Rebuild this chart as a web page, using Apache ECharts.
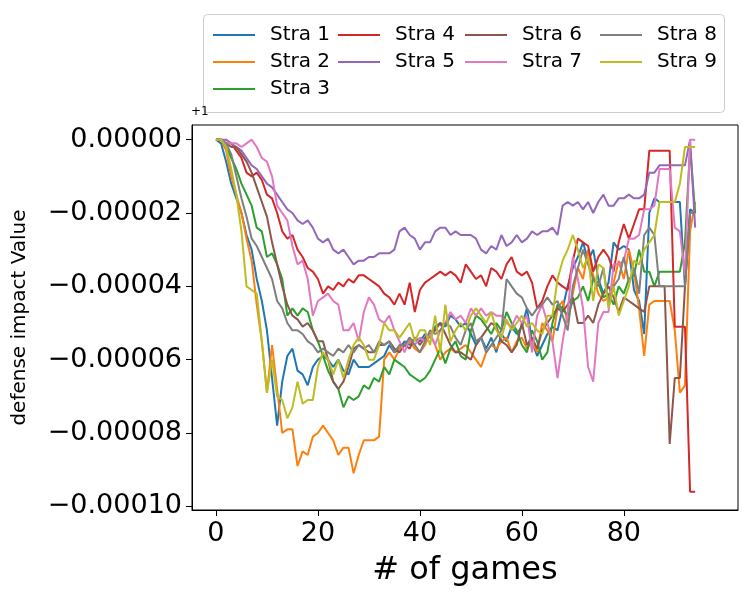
<!DOCTYPE html>
<html>
<head>
<meta charset="utf-8">
<script src="https://cdn.jsdelivr.net/npm/echarts@6/dist/echarts.min.js"></script>
<style>body{margin:0}#main{width:750px;height:600px}</style>
</head>
<body>
<div id="main"></div>
<script>
// values are in units of 1e-6, relative to the +1 offset
var names = ['Stra 1','Stra 2','Stra 3','Stra 4','Stra 5','Stra 6','Stra 7','Stra 8','Stra 9'];
var colors = ['#1f77b4','#ff7f0e','#2ca02c','#d62728','#9467bd','#8c564b','#e377c2','#7f7f7f','#bcbd22'];
var xTicks = [0,20,40,60,80];
var yTicks = [0,-20,-40,-60,-80,-100];

var stra1 = [0,-1,-6,-12,-16,-20,-26,-30,-38,-44,-52,-65,-78,-66,-59,-57,-63,-64,-67,-62,-60,-59,-60,-62,-60,-63,-64,-60,-62,-62,-62,-61,-60,-59,-56,-58,-57,-55,-56,-54,-55,-53,-54,-51,-50,-51,-48,-49,-51,-50,-53,-56,-54,-57,-54,-58,-53,-55,-51,-53,-51,-46,-55,-59,-56,-53,-51,-52,-46,-40,-35,-32,-28,-33,-30,-38,-42,-39,-28,-30,-29,-30,-41,-44,-53,-20,-16,-17,-17,-17,-17,-17,-40,-19,-20];
var stra2 = [0,0,-3,-10,-15,-20,-27,-33,-45,-55,-69,-56,-68,-80,-79,-79,-89,-85,-86,-81,-80,-78,-80,-82,-86,-84,-84,-91,-86,-82,-82,-82,-81,-60,-58,-60,-57,-56,-55,-57,-58,-56,-53,-56,-60,-58,-57,-58,-57,-56,-58,-60,-62,-58,-56,-57,-55,-54,-58,-55,-54,-57,-55,-58,-50,-52,-55,-46,-44,-50,-42,-35,-38,-30,-37,-42,-44,-43,-39,-33,-38,-30,-36,-46,-59,-45,-44,-44,-44,-44,-52,-69,-67,-25,-17];
var stra3 = [0,0,-2,-5,-8,-12,-15,-18,-24,-25,-32,-31,-34,-38,-48,-46,-48,-46,-47,-52,-55,-59,-63,-66,-68,-73,-70,-71,-70,-67,-68,-65,-66,-62,-64,-60,-61,-62,-64,-65,-66,-65,-63,-60,-57,-61,-57,-55,-59,-60,-52,-48,-49,-51,-53,-50,-52,-47,-50,-52,-56,-58,-52,-55,-60,-58,-50,-45,-46,-48,-44,-43,-40,-44,-38,-39,-43,-42,-45,-40,-42,-38,-37,-30,-36,-36,-40,-36,-36,-36,-36,-36,-28,-2,-20];
var stra4 = [0,0,-1,-1,-3,-5,-9,-10,-9,-11,-15,-16,-20,-25,-27,-26,-30,-32,-35,-36,-38,-42,-40,-41,-39,-40,-38,-39,-37,-37,-38,-39,-40,-42,-43,-45,-42,-45,-39,-47,-41,-39,-38,-37,-36,-37,-36,-37,-39,-34,-36,-38,-37,-40,-35,-36,-38,-34,-32,-36,-37,-36,-39,-46,-44,-40,-37,-39,-40,-41,-33,-27,-28,-29,-36,-32,-30,-32,-36,-28,-23,-27,-23,-19,-19,-3,-3,-3,-3,-3,-51,-51,-51,-96,-96];
var stra5 = [0,0,0,-1,-2,-3,-5,-7,-8,-10,-12,-13,-15,-17,-19,-20,-22,-23,-22,-24,-27,-28,-27,-30,-31,-30,-32,-34,-33,-33,-32,-32,-31,-31,-31,-30,-25,-24,-26,-27,-30,-28,-28,-25,-24,-24,-26,-25,-26,-26,-26,-27,-30,-31,-29,-30,-26,-29,-28,-26,-28,-27,-25,-26,-25,-25,-24,-26,-18,-17,-18,-17,-19,-17,-20,-17,-15,-18,-18,-16,-16,-15,-16,-16,-15,-9,-9,-7,-7,-7,-7,-7,-7,0,-24];
var stra6 = [0,0,-1,-2,-2,-4,-6,-9,-13,-17,-21,-28,-34,-40,-45,-48,-49,-51,-50,-52,-55,-55,-60,-66,-68,-66,-62,-57,-56,-57,-58,-58,-56,-56,-55,-57,-58,-56,-57,-54,-56,-54,-53,-52,-50,-53,-56,-58,-58,-59,-60,-56,-54,-52,-50,-51,-55,-56,-58,-56,-50,-56,-54,-57,-52,-50,-48,-46,-47,-45,-43,-50,-50,-48,-50,-45,-42,-40,-43,-47,-43,-44,-45,-46,-47,-40,-40,-40,-40,-83,-65,-65,-40,-20,-20];
var stra7 = [0,0,-1,-1,-1,-2,-1,0,-2,-5,-6,-10,-18,-20,-22,-29,-34,-33,-38,-48,-44,-43,-42,-44,-45,-52,-52,-50,-55,-47,-43,-45,-49,-50,-48,-52,-55,-58,-54,-56,-54,-55,-53,-56,-52,-50,-47,-49,-48,-50,-46,-48,-46,-48,-47,-48,-48,-50,-51,-48,-50,-48,-58,-48,-45,-50,-55,-65,-55,-47,-32,-38,-46,-62,-66,-50,-47,-47,-34,-34,-33,-27,-27,-26,-19,-19,-18,-8,-8,-8,-24,-25,-37,0,0];
var stra8 = [0,0,-1,-4,-10,-16,-21,-27,-29,-32,-35,-38,-44,-46,-50,-52,-52,-53,-55,-56,-58,-57,-58,-59,-57,-58,-56,-58,-56,-57,-56,-58,-55,-56,-55,-58,-56,-56,-54,-56,-58,-55,-52,-53,-52,-50,-51,-54,-56,-52,-50,-55,-54,-58,-56,-54,-52,-38,-40,-42,-43,-46,-48,-46,-45,-43,-45,-44,-48,-52,-40,-35,-30,-34,-38,-40,-35,-45,-40,-38,-32,-39,-35,-42,-26,-24,-26,-40,-40,-40,-40,-40,-40,-20,-20];
var stra9 = [0,0,-2,-8,-15,-25,-40,-41,-42,-55,-69,-60,-70,-71,-76,-73,-66,-72,-71,-71,-62,-58,-60,-64,-60,-65,-60,-56,-54,-56,-60,-60,-56,-50,-52,-52,-54,-52,-50,-55,-52,-52,-56,-48,-58,-45,-55,-52,-50,-52,-48,-46,-48,-50,-47,-52,-54,-49,-52,-50,-48,-51,-50,-52,-53,-48,-48,-38,-33,-30,-26,-30,-35,-32,-44,-34,-35,-46,-40,-48,-44,-40,-33,-34,-30,-28,-26,-17,-17,-17,-17,-12,-2,-2,-2];
var allData = [stra1,stra2,stra3,stra4,stra5,stra6,stra7,stra8,stra9];

var series = [];
for (var i = 0; i < allData.length; i++) {
    var pts = [];
    for (var j = 0; j < allData[i].length; j++) pts.push([j, allData[i][j]]);
    series.push({name: names[i], type: 'line', data: pts, showSymbol: false,
        lineStyle: {width: 2, color: colors[i]}, itemStyle: {color: colors[i]}});
}

// matplotlib style legend: 4 columns
var cols = [[0,1,2],[3,4],[5,6],[7,8]];
var colX = [208, 333, 460, 595];
var legends = [];
for (var c = 0; c < cols.length; c++) {
    legends.push({
        data: cols[c].map(function(k){ return names[k]; }),
        orient: 'vertical', left: colX[c], top: 20, itemGap: 7,
        icon: 'rect', itemWidth: 42, itemHeight: 2,
        textStyle: {fontSize: 20, color: '#000', fontFamily: 'DejaVu Sans', padding: [0,0,0,10]}
    });
}

function yFmt(v) {
    if (v === 0) return '0.00000';
    return (v < 0 ? '\u2212' : '') + Math.abs(v * 1e-6).toFixed(5);
}

var myChart = echarts.init(document.getElementById('main'));
myChart.setOption({
    animation: false,
    textStyle: {fontFamily: 'DejaVu Sans'},
    legend: legends,
    grid: {left: 192, right: 12, top: 125, bottom: 90, show: true, borderColor: '#000', borderWidth: 1},
    graphic: [
        {type: 'rect', left: 203, top: 14, shape: {width: 521, height: 98, r: 4},
         style: {fill: 'rgba(255,255,255,0.8)', stroke: '#ccc', lineWidth: 1}, z: 0},
        {type: 'text', left: 191, top: 106, style: {text: '+1', fontSize: 12, fill: '#000', fontFamily: 'DejaVu Sans'}}
    ],
    xAxis: {
        type: 'value', min: -4.7, max: 102.4,
        name: '# of games', nameLocation: 'middle', nameGap: 45,
        nameTextStyle: {fontSize: 32, color: '#000'},
        axisLine: {onZero: false, lineStyle: {color: '#000'}},
        axisTick: {show: true, length: 6, customValues: xTicks, lineStyle: {color: '#000'}},
        axisLabel: {fontSize: 27, color: '#000', margin: 10, customValues: xTicks},
        splitLine: {show: false}
    },
    yAxis: {
        type: 'value', min: -101, max: 4,
        name: 'defense impact Value', nameLocation: 'middle', nameGap: 162,
        nameTextStyle: {fontSize: 20, color: '#000'},
        axisLine: {show: true, onZero: false, lineStyle: {color: '#000'}},
        axisTick: {show: true, length: 6, customValues: yTicks, lineStyle: {color: '#000'}},
        axisLabel: {fontSize: 27, color: '#000', margin: 10, customValues: yTicks, formatter: yFmt},
        splitLine: {show: false}
    },
    series: series
});
</script>
</body>
</html>
